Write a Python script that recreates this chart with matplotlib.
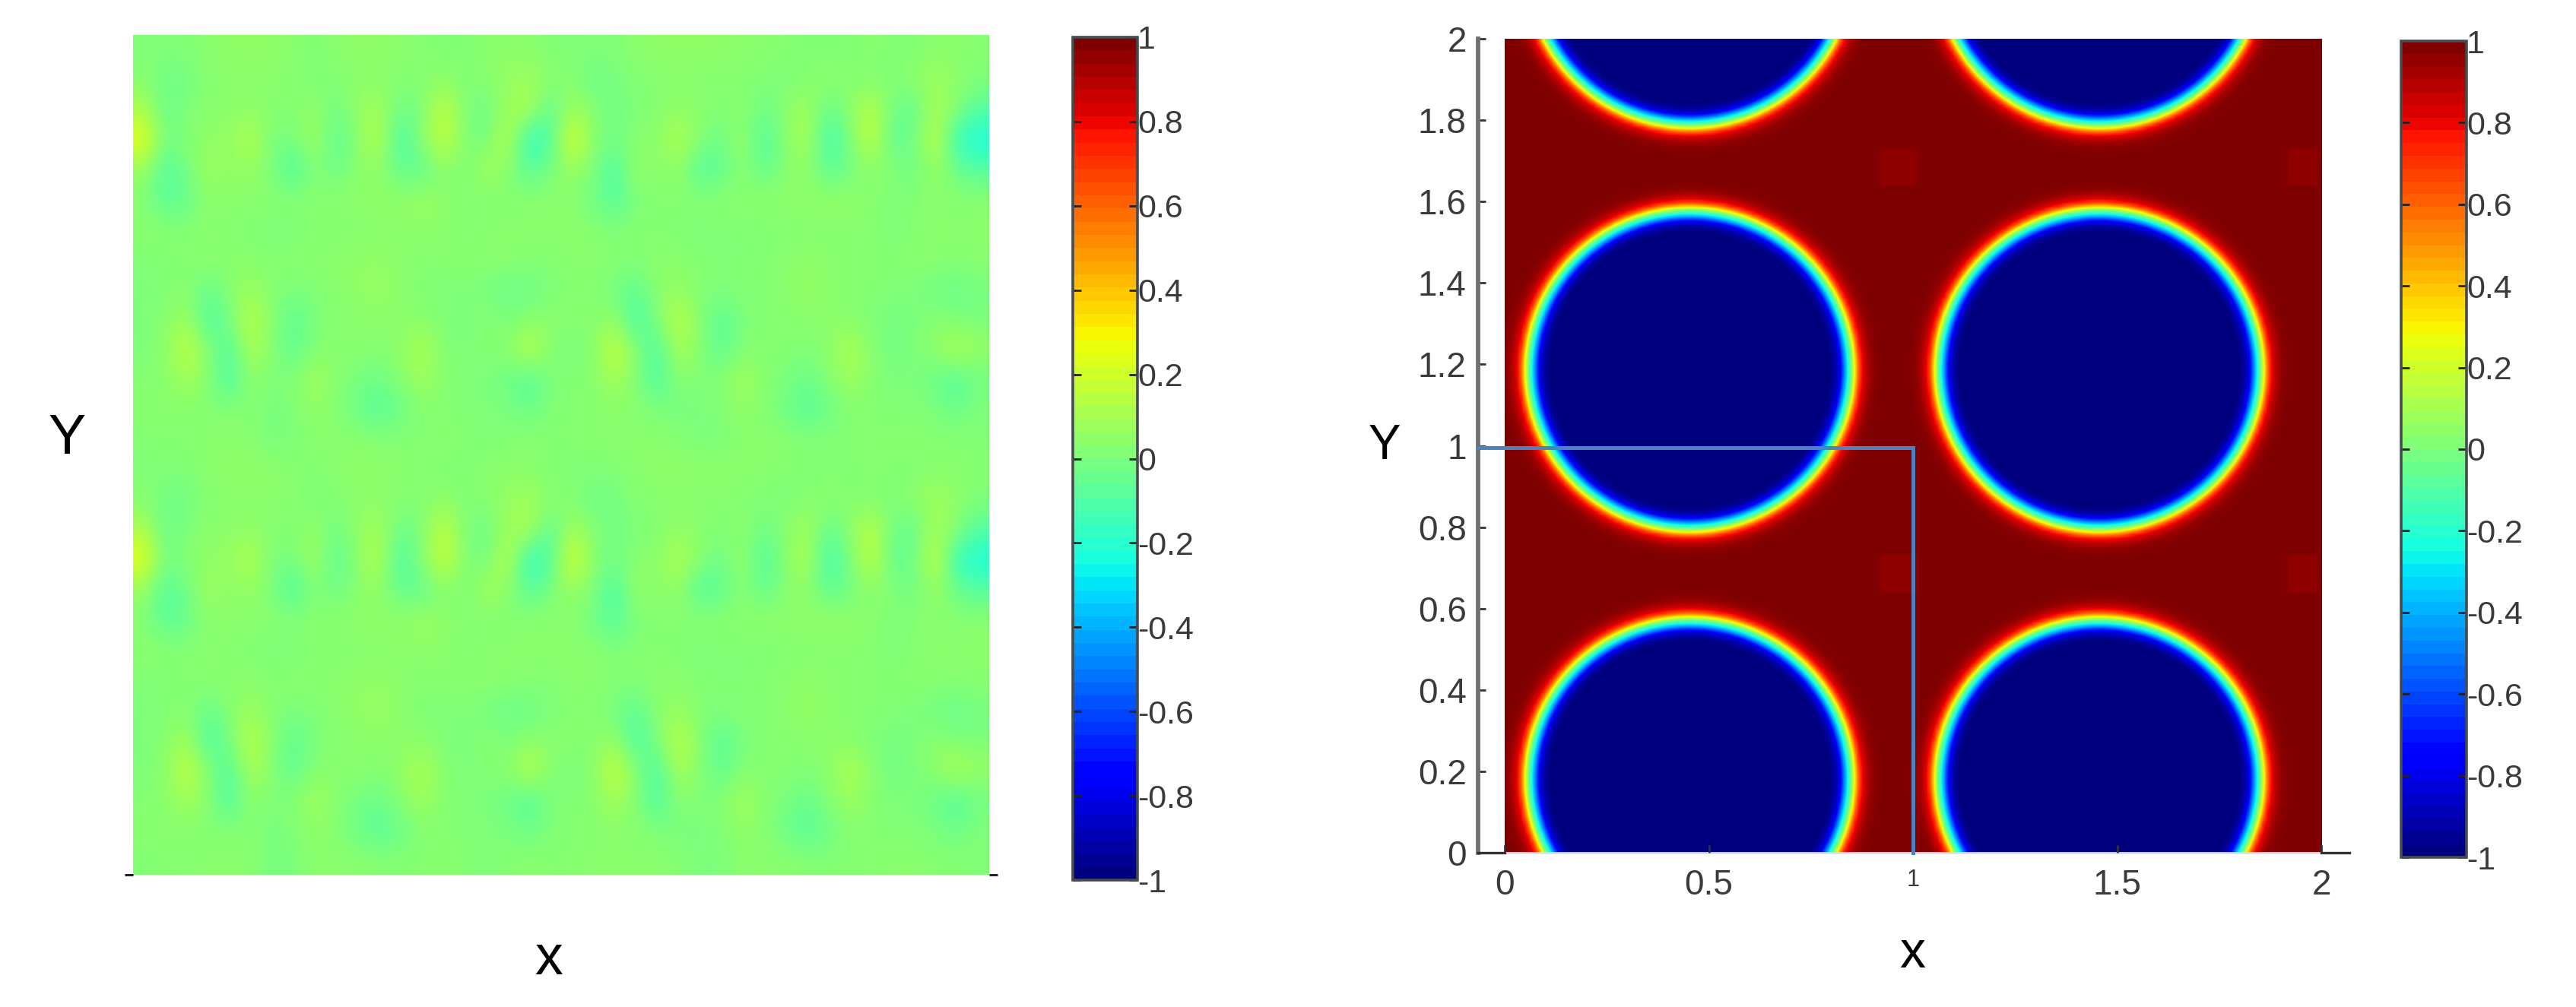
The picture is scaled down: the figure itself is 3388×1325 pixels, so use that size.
import numpy as np
import matplotlib
matplotlib.use("Agg")
import matplotlib.pyplot as plt
from matplotlib.cm import ScalarMappable
from matplotlib.colors import Normalize

W, H = 3388, 1325
plt.rcParams['font.family'] = ['Liberation Sans', 'DejaVu Sans']
TXT = '#3a3a3a'

# Left panel: one vertical period of the field, read in units of 1/80
field_rows = [
 [1,1,1,3,4,4,4,3,1,3, 4,4,3,2,1,1,3,3,3,1, 1,1,1,3,4,4,4,4,3,3, 2,1,1,1,3,1,1,3,3,2],
 [2,-2,-2,2,3,3,3,2,0,2, 3,3,2,2,4,1,3,5,7,3, 2,-3,-1,2,2,3,2,2,2,1, 0,2,4,2,1,1,4,7,3,1],
 [10,-4,1,3,3,4,2,2,5,-3, 5,8,-3,0,15,0,-3,6,11,-7, 8,2,-2,0,2,4,3,1,3,-3, 3,8,-5,3,13,-2,-5,9,2,-8],
 [21,-2,2,4,5,11,0,-1,8,-7, 3,12,-12,3,15,2,-2,14,-17,-9, 20,2,-2,3,3,11,2,-3,6,-10, 3,10,-13,0,15,-6,-2,15,-15,-19],
 [5,-8,-2,7,3,5,0,-10,2,-3, 3,4,-4,-6,3,0,8,3,-7,0, 5,1,-10,6,2,5,-9,-5,3,-5, 2,4,-6,-2,3,2,-3,6,-3,-7],
 [2,-7,-4,3,3,3,3,2,3,3, 4,4,4,7,4,2,1,2,3,3, 3,-2,-8,0,2,2,3,3,3,4, 4,4,5,5,3,0,2,3,2,3],
 [3,3,2,3,2,1,0,0,2,2, 2,3,3,3,3,1,3,3,3,3, 3,3,1,2,2,1,0,1,1,1, 1,2,2,2,2,0,2,3,3,3],
 [1,1,2,3,3,3,2,3,3,3, 4,4,3,2,3,3,3,3,2,2, 3,3,2,2,3,3,2,1,1,2, 3,4,3,2,2,2,3,3,2,3],
 [0,1,3,-4,2,6,2,0,1,3, 4,6,3,1,0,1,-1,-3,-3,0, 2,2,-1,-6,3,5,1,1,2,1, 3,5,3,2,2,1,0,-2,-4,-1],
 [0,2,8,-10,-1,13,2,-6,0,2, 3,3,3,3,1,-1,3,-1,3,3, 3,2,5,-11,1,13,2,-7,0,2, 2,3,3,3,0,-1,0,3,0,0],
 [0,3,14,3,-9,10,2,-6,2,3, 3,2,4,10,2,0,2,3,13,2, -1,2,16,2,-10,10,2,-6,2,2, 2,1,3,10,3,-2,0,4,11,5],
 [2,2,8,2,-10,4,0,2,8,2, -1,-3,2,7,2,1,0,-3,-8,0, 2,2,8,2,-10,3,0,2,8,2, 0,-4,2,7,2,0,1,-4,-8,-2],
 [3,3,2,2,2,2,-1,1,4,2, -3,-7,-3,2,2,1,1,0,-3,1, 2,2,3,2,1,-1,0,1,4,2, -3,-7,-3,2,2,1,1,0,-3,1],
 [1,2,2,3,3,3,-1,0,3,3, 3,2,2,2,3,2,0,2,3,2, 2,3,3,3,3,2,0,0,3,3, 3,2,2,2,2,3,3,2,2,1],
]

# Right panel: geometry of the discs and the value across their rim
circle_x = [0.453, 1.455]
circle_y = [0.181, 1.187, 2.179]
radius_x = 0.396
radius_y = 0.392
rim_dist = [-0.050, -0.030, -0.015, 0.0, 0.010, 0.021, 0.033, 0.050, 0.070]
rim_val = [-1.0, -0.85, -0.40, 0.0, 0.40, 0.75, 0.88, 0.97, 1.0]
patch_x = [(0.914, 1.007), (1.914, 1.995)]
patch_y = [(0.635, 0.730), (1.638, 1.733)]
patch_val = 0.97

cbar_ticks = [-1, -0.8, -0.6, -0.4, -0.2, 0, 0.2, 0.4, 0.6, 0.8, 1]
cbar_labels = ['-1', '-0.8', '-0.6', '-0.4', '-0.2', '0', '0.2', '0.4', '0.6', '0.8', '1']
y_ticks = [0, 0.2, 0.4, 0.6, 0.8, 1, 1.2, 1.4, 1.6, 1.8, 2]
y_labels = ['0', '0.2', '0.4', '0.6', '0.8', '1', '1.2', '1.4', '1.6', '1.8', '2']
x_ticks = [0, 0.5, 1, 1.5, 2]
x_labels = ['0', '0.5', '1', '1.5', '2']


def box(x0, y0, x1, y1):
    return [x0 / W, 1 - y1 / H, (x1 - x0) / W, (y1 - y0) / H]


def label(x, y, s, size):
    fig.text(x / W, 1 - y / H, s, fontsize=size, ha='center', va='center', color='black')


field_cmap = plt.get_cmap('jet', 1024)
bar_cmap = plt.get_cmap('jet', 64)
norm = Normalize(vmin=-1, vmax=1)
fig = plt.figure(figsize=(W / 100, H / 100), dpi=100)


def colorbar(rect):
    cax = fig.add_axes(box(*rect))
    cb = fig.colorbar(ScalarMappable(norm=norm, cmap=bar_cmap), cax=cax)
    cb.set_ticks(cbar_ticks, labels=cbar_labels)
    cax.tick_params(axis='y', which='major', direction='in', left=True, right=True,
                    length=8, width=2, color='#222222', labelsize=31, labelcolor=TXT, pad=0)
    cb.outline.set_edgecolor('#454c50')
    cb.outline.set_linewidth(2.6)
    return cb


# Left panel
half = np.array(field_rows, dtype=float) / 80.0
full = np.vstack([half, half])
ax1 = fig.add_axes(box(175, 46, 1301, 1151))
ax1.imshow(full, cmap=field_cmap, norm=norm, aspect='auto',
           interpolation='bicubic', extent=[0, 1, 0, 1], origin='upper')
for s in ax1.spines.values():
    s.set_visible(False)
ax1.set_xticks([])
ax1.set_yticks([0])
ax1.set_yticklabels([])
ax1.tick_params(axis='y', left=True, right=True, direction='out', length=8, width=2.2,
                color='#222222')
colorbar((1411, 49, 1496, 1158))

# Right panel
n = 216
xs = (np.arange(n) + 0.5) * 2 / n
X, Y = np.meshgrid(xs, xs)
dist = np.full_like(X, 9.0)
for cx in circle_x:
    for cy in circle_y:
        rho = np.hypot((X - cx) / radius_x, (Y - cy) / radius_y)
        dist = np.minimum(dist, (rho - 1) * radius_x)
field = np.interp(dist, rim_dist, rim_val)
for (xa, xb) in patch_x:
    for (ya, yb) in patch_y:
        field[(X > xa) & (X < xb) & (Y > ya) & (Y < yb)] = patch_val

ax2 = fig.add_axes(box(1944, 51, 3090, 1122))
ax2.imshow(field, cmap=field_cmap, norm=norm, aspect='auto', origin='lower',
           extent=[0, 2, 0, 2], interpolation='bilinear')
x_low, x_high = -35 / 537, 2 + 37 / 537
ax2.set_xlim(x_low, x_high)
ax2.set_ylim(0, 2)
for k in ('top', 'right', 'bottom'):
    ax2.spines[k].set_visible(False)
ax2.spines['left'].set_color('#707070')
ax2.spines['left'].set_linewidth(4.2)
ax2.set_xticks(x_ticks, labels=x_labels)
ax2.set_yticks(y_ticks, labels=y_labels)
ax2.tick_params(axis='both', direction='in', length=7, width=2, color='#333333',
                labelsize=33, labelcolor=TXT)
ax2.tick_params(axis='y', pad=11)
ax2.tick_params(axis='x', pad=15)
for t in ax2.get_xticklabels() + ax2.get_yticklabels():
    t.set_family(['Liberation Sans Narrow', 'Liberation Sans'])
ax2.get_xticklabels()[2].set_fontsize(22)
ax2.plot([x_low, 0], [0, 0], color='#333333', lw=2.4, clip_on=False, zorder=4)
ax2.plot([2, x_high], [0, 0], color='#333333', lw=2.4, clip_on=False, zorder=4)
ax2.plot([0, 2], [0, 0], color='#dcdcf0', lw=2.0, clip_on=False, zorder=1.5)
ax2.plot([x_low, 1, 1], [0.995, 0.995, 0], color='#4f81bd', lw=3.6, zorder=5, clip_on=False,
         solid_joinstyle='miter')
colorbar((3158, 54, 3244, 1128))

label(88, 577, 'Y', 53)
label(722, 1262, 'x', 53)
label(1821, 587, 'Y', 46)
label(2515, 1255, 'x', 49)

fig.savefig('out.png', dpi=100)
